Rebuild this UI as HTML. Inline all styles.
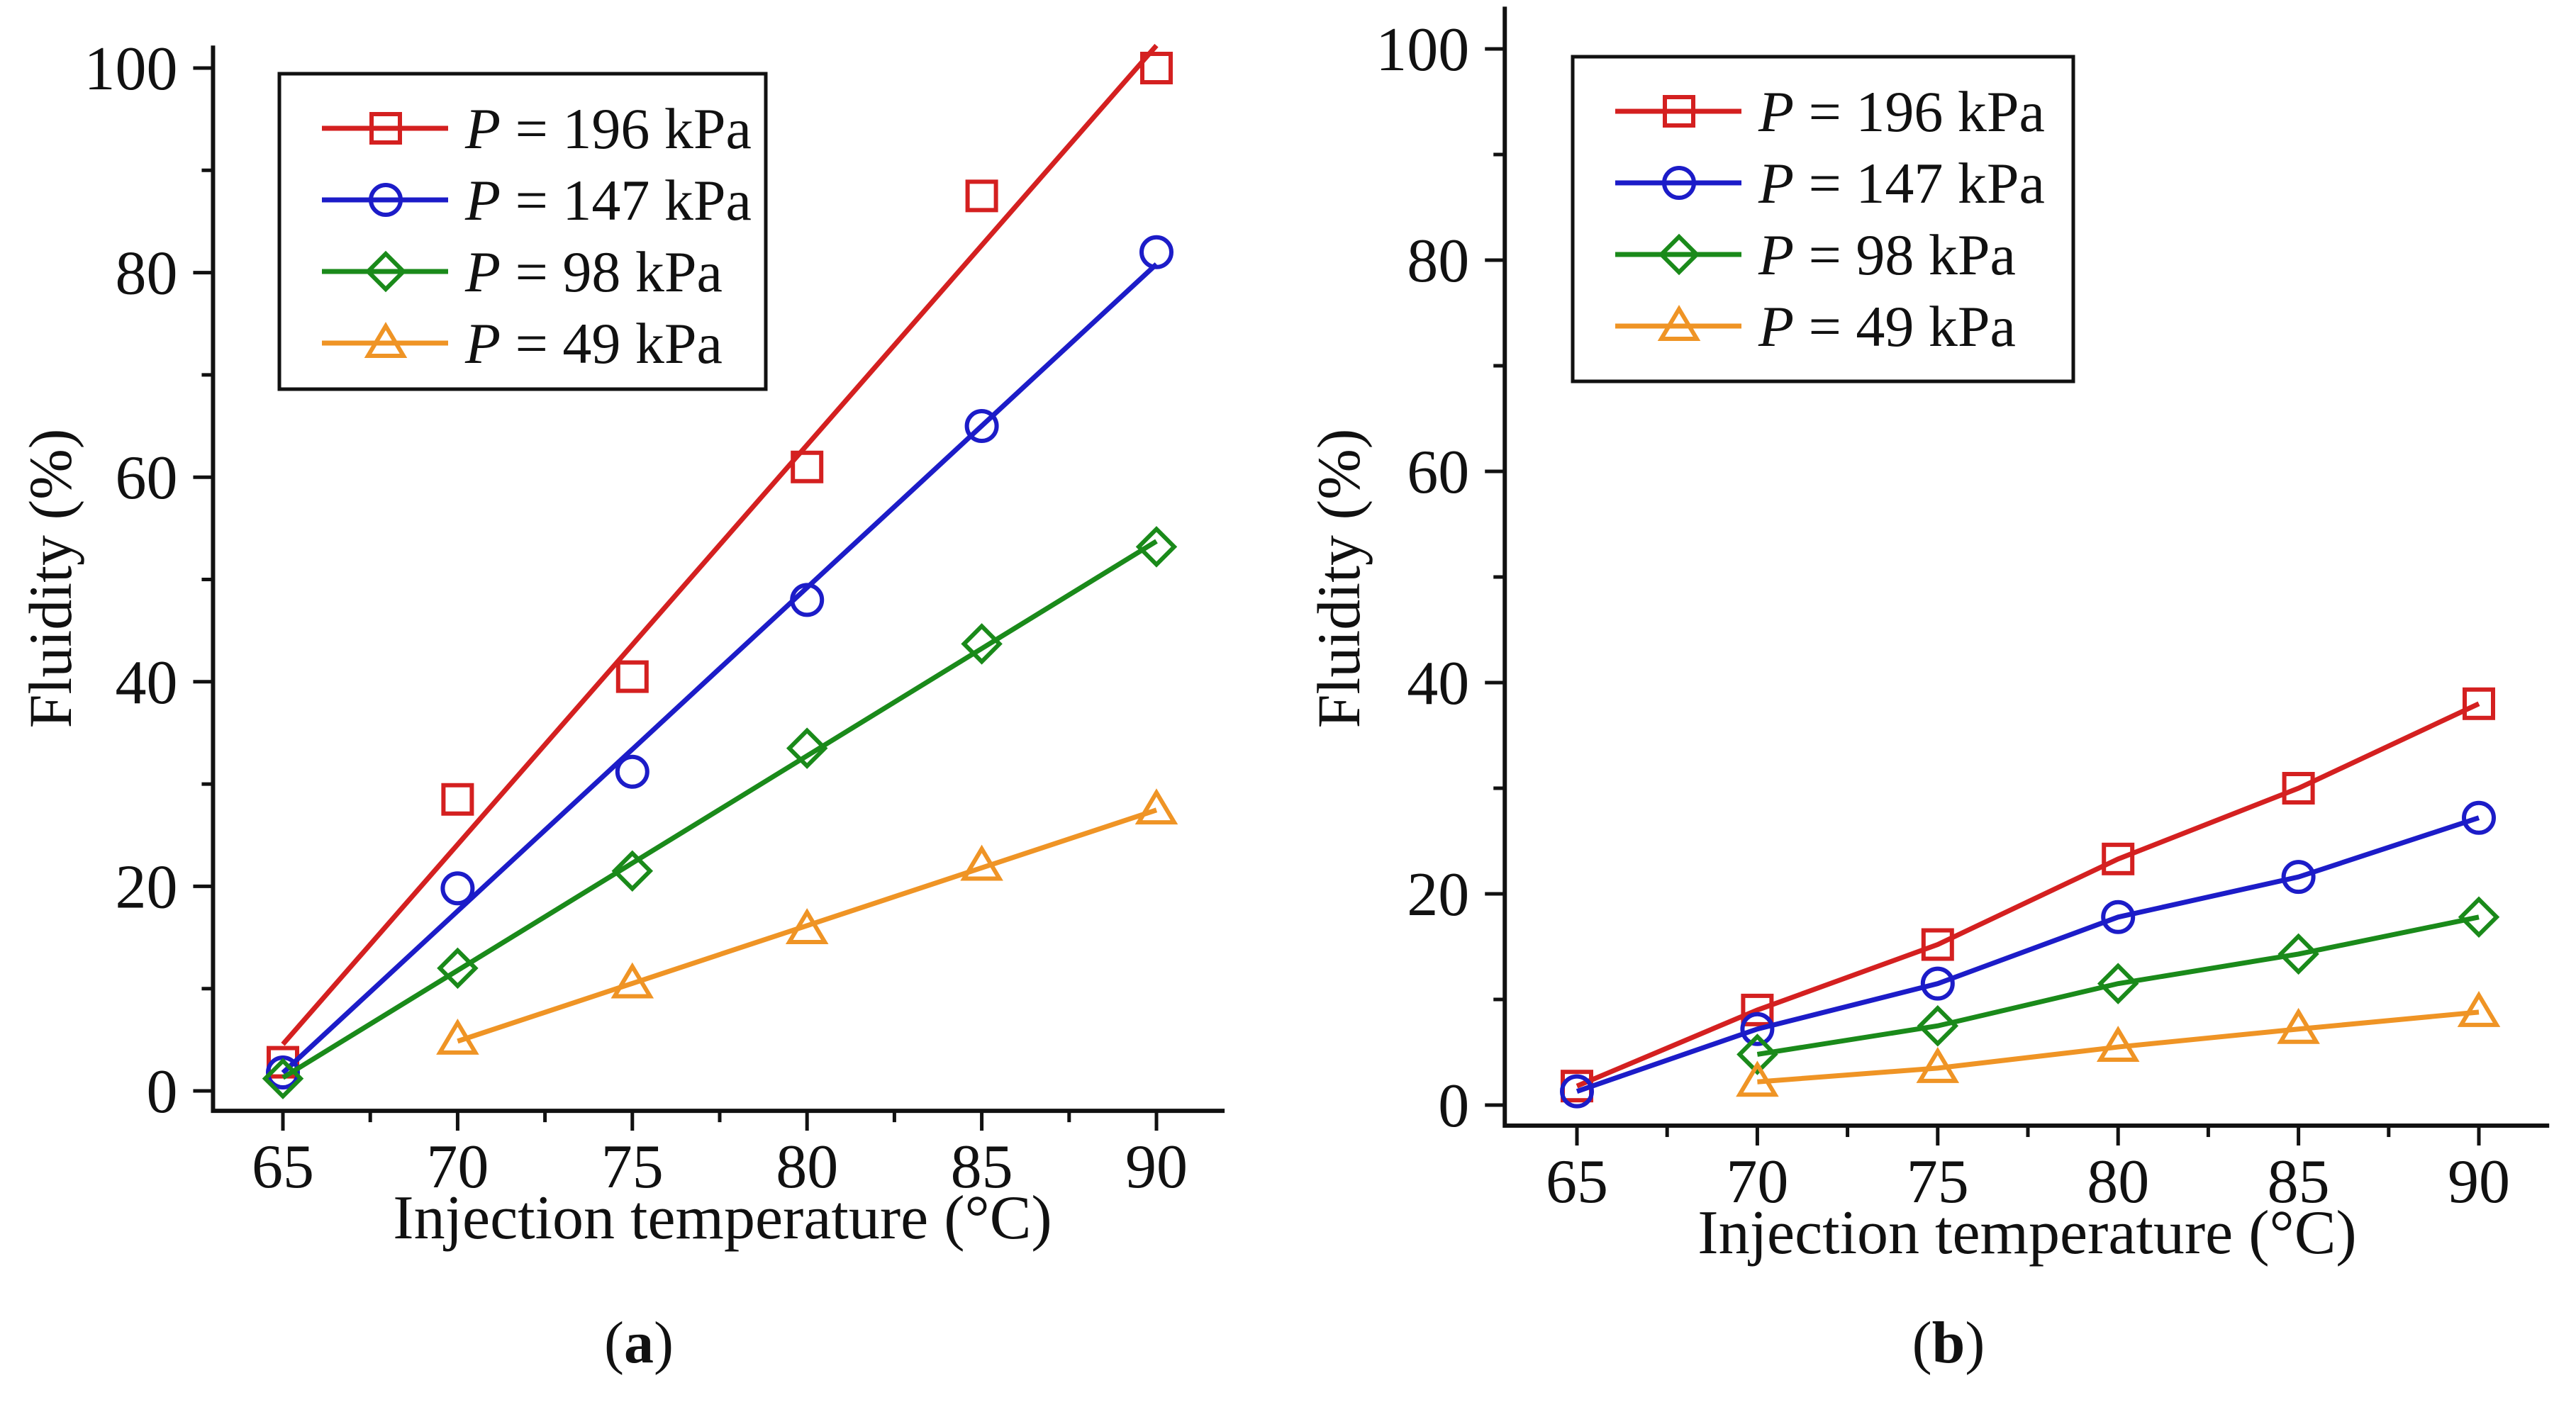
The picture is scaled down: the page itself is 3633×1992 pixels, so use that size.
<!DOCTYPE html>
<html><head><meta charset="utf-8">
<style>
html,body{margin:0;padding:0;background:#fff;}
svg{display:block;font-family:"Liberation Serif",serif;}
</style></head>
<body>
<svg id="fig" width="3633" height="1992" viewBox="0 0 3633 1992" xmlns="http://www.w3.org/2000/svg"></svg>
<script>
// ---- data ----
const xTicks = [65, 70, 75, 80, 85, 90];
const yTicks = [0, 20, 40, 60, 80, 100];
const seriesNames = ["P = 196 kPa", "P = 147 kPa", "P = 98 kPa", "P = 49 kPa"];
const seriesLabels = ["196 kPa", "147 kPa", "98 kPa", "49 kPa"];
const aX196 = [65, 70, 75, 80, 85, 90];
const aY196 = [2.8, 28.5, 40.5, 61, 87.5, 100];
const aX147 = [65, 70, 75, 80, 85, 90];
const aY147 = [1.8, 19.8, 31.2, 48, 65, 82];
const aX98 = [65, 70, 75, 80, 85, 90];
const aY98 = [1.2, 12, 21.5, 33.5, 43.7, 53.2];
const aX49 = [70, 75, 80, 85, 90];
const aY49 = [5, 10.5, 15.8, 22, 27.5];
const bX196 = [65, 70, 75, 80, 85, 90];
const bY196 = [1.8, 9, 15.2, 23.3, 30, 38];
const bX147 = [65, 70, 75, 80, 85, 90];
const bY147 = [1.3, 7.2, 11.5, 17.8, 21.6, 27.2];
const bX98 = [70, 75, 80, 85, 90];
const bY98 = [4.8, 7.5, 11.5, 14.3, 17.8];
const bX49 = [70, 75, 80, 85, 90];
const bY49 = [2.2, 3.5, 5.5, 7.2, 8.8];

const NS = "http://www.w3.org/2000/svg";
const svg = document.getElementById('fig');
const colors = ["#d42020", "#1c1cc8", "#1a8a1a", "#ef9425"];
const shapes = ["square", "circle", "diamond", "triangle"];

function mk(tag, attrs, parent) {
  const e = document.createElementNS(NS, tag);
  for (const k in attrs) e.setAttribute(k, attrs[k]);
  (parent || svg).appendChild(e);
  return e;
}
function marker(g, shape, cx, cy, color) {
  const s = 22, sw = 6;
  let m;
  if (shape === "square") m = mk('rect', {x: cx - s + 2, y: cy - s + 2, width: 2 * s - 4, height: 2 * s - 4, fill: 'none', stroke: color, 'stroke-width': sw}, g);
  else if (shape === "circle") m = mk('circle', {cx: cx, cy: cy, r: s - 1, fill: 'none', stroke: color, 'stroke-width': sw}, g);
  else if (shape === "diamond") m = mk('polygon', {points: `${cx},${cy - s - 3} ${cx + s + 3},${cy} ${cx},${cy + s + 3} ${cx - s - 3},${cy}`, fill: 'none', stroke: color, 'stroke-width': sw}, g);
  else m = mk('polygon', {points: `${cx},${cy - s - 2} ${cx + s + 3},${cy + s - 4} ${cx - s - 3},${cy + s - 4}`, fill: 'none', stroke: color, 'stroke-width': sw}, g);
  
  
}
function fit(xs, ys) {
  const n = xs.length;
  const mx = xs.reduce((a, b) => a + b, 0) / n, my = ys.reduce((a, b) => a + b, 0) / n;
  let sxy = 0, sxx = 0;
  for (let i = 0; i < n; i++) { sxy += (xs[i] - mx) * (ys[i] - my); sxx += (xs[i] - mx) ** 2; }
  const k = sxy / sxx;
  return [xs[0], my + k * (xs[0] - mx), xs[n - 1], my + k * (xs[n - 1] - mx)];
}

function panel(cfg) {
  const g = mk('g', {});
  
  
  const X = v => cfg.x0 + (v - 65) * cfg.kx;
  const Y = v => cfg.y0 - v * cfg.ky;
  const left = X(63), right = X(91.95), bottom = Y(-1.95), top = Y(cfg.ytop);
  cfg.series.forEach((s, i) => {
    const sg = mk('g', {}, g);
    
    
    let pts;
    if (cfg.regress) {
      const f = fit(s[0], s[1]);
      pts = `${X(f[0])},${Y(f[1])} ${X(f[2])},${Y(f[3])}`;
    } else {
      pts = s[0].map((x, j) => `${X(x)},${Y(s[1][j])}`).join(' ');
    }
    const ln = mk('polyline', {points: pts, fill: 'none', stroke: colors[i], 'stroke-width': 7}, sg);
    
    
    s[0].forEach((x, j) => marker(sg, shapes[i], X(x), Y(s[1][j]), colors[i]));
  });
  const ax = mk('path', {d: `M${left},${top} L${left},${bottom} L${right},${bottom}`, fill: 'none', stroke: '#111', 'stroke-width': 6}, g);
  
  
  for (let v = 0; v <= 100; v += 10) {
    const major = v % 20 === 0;
    const t = mk('line', {x1: left - (major ? 28 : 16), x2: left, y1: Y(v), y2: Y(v), stroke: '#111', 'stroke-width': 5}, g);
    
    
  }
  yTicks.forEach(v => {
    const t = mk('text', {x: left - 50, y: Y(v) + 30, 'font-size': 88, 'text-anchor': 'end', fill: '#111'}, g);
    t.textContent = v;
    
    
  });
  for (let v = 65; v <= 90; v += 2.5) {
    const major = v % 5 === 0;
    const t = mk('line', {x1: X(v), x2: X(v), y1: bottom, y2: bottom + (major ? 28 : 16), stroke: '#111', 'stroke-width': 5}, g);
    
    
  }
  xTicks.forEach(v => {
    const t = mk('text', {x: X(v), y: bottom + 108, 'font-size': 88, 'text-anchor': 'middle', fill: '#111'}, g);
    t.textContent = v;
    
    
  });
  const xt = mk('text', {x: cfg.xtx, y: bottom + 180, 'font-size': 88, 'text-anchor': 'middle', fill: '#111'}, g);
  xt.textContent = 'Injection temperature (°C)';
  
  
  const yt = mk('text', {x: 0, y: 0, 'font-size': 86, 'text-anchor': 'middle', fill: '#111', transform: `translate(${cfg.ytx},816) rotate(-90)`}, g);
  yt.textContent = 'Fluidity (%)';
  
  
  const lg = mk('g', {}, g);
  
  
  const lb = mk('rect', {x: cfg.lx, y: cfg.ly, width: cfg.lw, height: cfg.lh, fill: '#fff', stroke: '#111', 'stroke-width': 5}, lg);
  
  
  seriesNames.forEach((n, i) => {
    const ry = cfg.ly + 77 + i * 101;
    const eg = mk('g', {}, lg);
    
    
    mk('line', {x1: cfg.lx + 60, x2: cfg.lx + 238, y1: ry, y2: ry, stroke: colors[i], 'stroke-width': 7}, eg);
    marker(eg, shapes[i], cfg.lx + 150, ry, colors[i]);
    const t = mk('text', {x: cfg.lx + 262, y: ry + 28, 'font-size': 82, fill: '#111'}, eg);
    t.innerHTML = '<tspan font-style="italic">P</tspan> = ' + seriesLabels[i];
  });
  const lab = mk('text', {x: cfg.labx, y: 1922, 'font-size': 84, 'text-anchor': 'middle', fill: '#111'}, g);
  lab.innerHTML = '(<tspan font-weight="bold">' + cfg.label + '</tspan>)';
  
  
}

panel({name: 'panel-a', x0: 399, kx: 49.28, y0: 1539, ky: 14.43, ytop: 102.2, regress: true,
  series: [[aX196, aY196], [aX147, aY147], [aX98, aY98], [aX49, aY49]],
  xtx: 1019, ytx: 100, lx: 394, ly: 104, lw: 686, lh: 445, labx: 901, label: 'a'});
panel({name: 'panel-b', x0: 2224, kx: 50.88, y0: 1559, ky: 14.9, ytop: 104, regress: false,
  series: [[bX196, bY196], [bX147, bY147], [bX98, bY98], [bX49, bY49]],
  xtx: 2859, ytx: 1917, lx: 2218, ly: 80, lw: 706, lh: 458, labx: 2748, label: 'b'});
</script>
</body></html>
